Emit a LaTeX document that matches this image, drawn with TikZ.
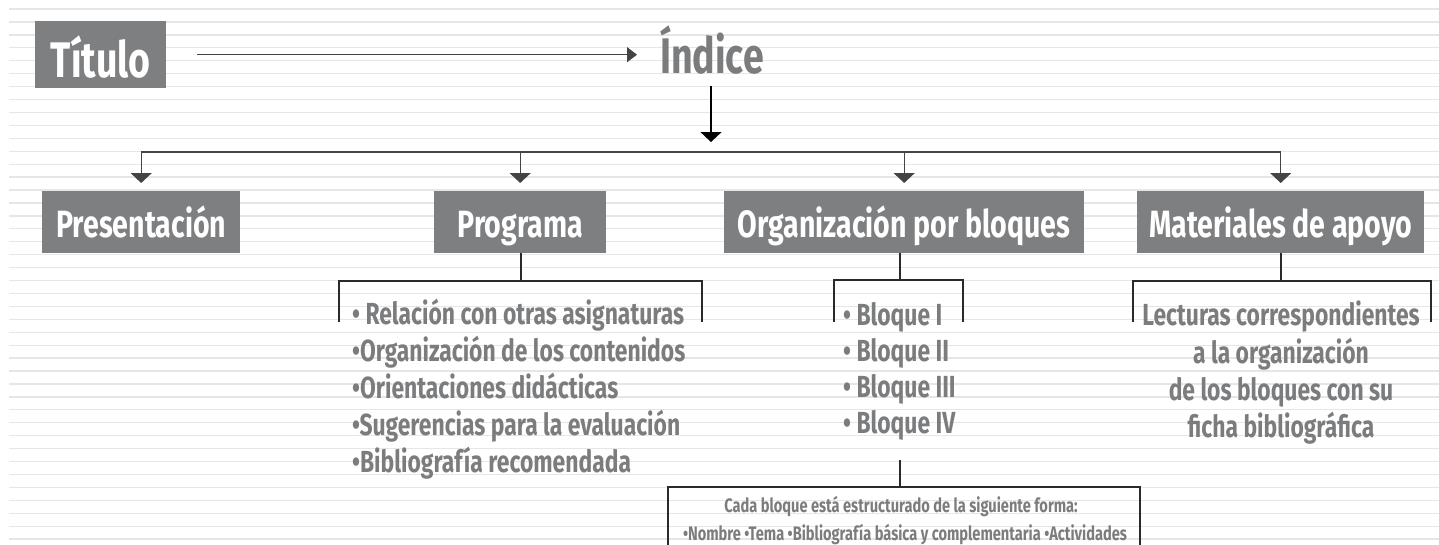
\documentclass[tikz,border=0pt]{standalone}
\usepackage{fontspec}
\setmainfont{Fira Sans}
\newfontfamily\cond{Fira Sans}[FakeStretch=0.75]
\usetikzlibrary{arrows.meta}
\definecolor{boxgray}{HTML}{7E7F81}
\definecolor{txtgray}{HTML}{7B7C7E}
\definecolor{stripe}{HTML}{E6E6E6}
\definecolor{conn}{HTML}{2A2A2A}
\definecolor{arrgray}{HTML}{444444}
\tikzset{
  hbox/.style={fill=boxgray, text=white, inner sep=0pt, anchor=north west,
    text height=32pt, text depth=2pt,
    font=\cond\bfseries\fontsize{38}{38}\selectfont},
  titlefont/.style={font=\cond\bfseries\fontsize{50}{50}\selectfont},
  item/.style={text=txtgray, inner sep=0pt, anchor=base west,
    font=\cond\bfseries\fontsize{30.5}{30.5}\selectfont},
  citem/.style={item, anchor=base},
  small/.style={text=txtgray, inner sep=0pt, anchor=base,
    font=\cond\bfseries\fontsize{19.5}{19.5}\selectfont},
  connline/.style={draw=conn, line width=1.5pt},
  busline/.style={draw=arrgray, line width=1.4pt},
  downarr/.style={draw=arrgray, line width=1.4pt, -{Triangle[width=21pt,length=10pt]}, shorten >=8pt},
  mainarr/.style={draw=black, line width=1.5pt, -{Triangle[width=21pt,length=10pt]}},
  titlearr/.style={draw=arrgray, line width=1.3pt, -{Triangle[width=15pt,length=10pt]}},
}
\begin{document}
\begin{tikzpicture}[x=1pt,y=-1pt]
\useasboundingbox (0,0) rectangle (1439,544);
% background stripes
\foreach \k in {0,...,41}{
  \draw[stripe, line width=1.3pt] (9,{9+\k*12.93}) -- (1439,{9+\k*12.93});
}
% title and index
\node[hbox, titlefont, text height=46pt, text depth=1pt, minimum width=131pt, minimum height=67pt] (titulo) at (35,21) {Título};
\node[titlefont, text=txtgray, inner sep=0pt, anchor=base west] (indice) at (660,73) {Índice};
\draw[titlearr, shorten <=31pt, shorten >=23pt] (titulo.east) -- (titulo.east -| indice.west);
\coordinate (istart) at (711,86);
\coordinate (bus) at (711,152);
\draw[mainarr, shorten >=10pt] (istart) -- (bus);
% boxes
\node[hbox, minimum width=198pt, minimum height=62pt] (pres) at (42,191) {Presentación};
\node[hbox, minimum width=172pt, minimum height=62pt] (prog) at (434,191) {Programa};
\node[hbox, minimum width=360pt, minimum height=62pt] (org) at (724,191) {Organización por bloques};
\node[hbox, minimum width=287pt, minimum height=62pt] (mat) at (1137,191) {Materiales de apoyo};
% bus
\draw[busline] (pres.north |- bus) -- (mat.north |- bus);
\draw[downarr] (pres.north |- bus) -- (pres.north);
\draw[downarr] (prog.north |- bus) -- (prog.north);
\draw[downarr] (org.north |- bus) -- (org.north);
\draw[downarr] (mat.north |- bus) -- (mat.north);
% brackets
\coordinate (pjoin) at (521,281);
\draw[connline] (prog.south -| pjoin) -- (pjoin);
\draw[connline] (339,322) -- (339,281) -- (702,281) -- (702,322);
\coordinate (ojoin) at (900,280);
\draw[connline] (org.south -| ojoin) -- (ojoin);
\draw[connline] (834,322) -- (834,280) -- (963,280) -- (963,322);
\coordinate (mjoin) at (1281,281);
\draw[connline] (mat.south -| mjoin) -- (mjoin);
\draw[connline] (1133,322) -- (1133,281) -- (1431,281) -- (1431,322);
% programa items
\node[item] (p1) at (352,324) {• Relación con otras asignaturas};
\node[item] (p2) at (352,361) {•Organización de los contenidos};
\node[item] (p3) at (352,398) {•Orientaciones didácticas};
\node[item] (p4) at (352,435) {•Sugerencias para la evaluación};
\node[item] (p5) at (352,472) {•Bibliografía recomendada};
% bloques items
\node[item] (b1) at (843,325) {• Bloque I};
\node[item] (b2) at (843,361) {• Bloque II};
\node[item] (b3) at (843,397) {• Bloque III};
\node[item] (b4) at (843,433) {• Bloque IV};
% materiales text
\node[citem] (m1) at (1281,325) {Lecturas correspondientes};
\node[citem] (m2) at (1281,363) {a la organización};
\node[citem] (m3) at (1281,400) {de los bloques con su};
\node[citem] (m4) at (1281,437) {ficha bibliográfica};
% bottom box
\node[inner sep=0pt, minimum width=472pt, minimum height=80pt, anchor=north] (cada) at (904,487) {};
\coordinate (bq) at (900,460);
\draw[connline] (bq) -- (bq |- cada.north);
\draw[connline] (cada.south west) -- (cada.north west) -- (cada.north east) -- (cada.south east);
\node[small] (c1) at (901,512) {Cada bloque está estructurado de la siguiente forma:};
\node[small] (c2) at (905,540) {•Nombre •Tema •Bibliografía básica y complementaria •Actividades};
\end{tikzpicture}
\end{document}
